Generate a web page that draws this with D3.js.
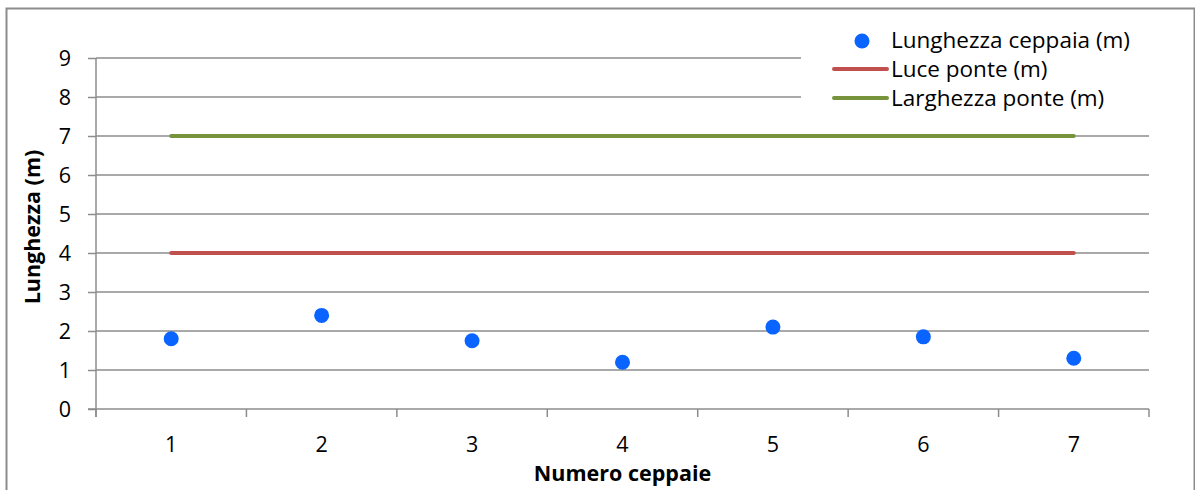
<!DOCTYPE html>
<html>
<head>
<meta charset="utf-8">
<script src="https://cdn.jsdelivr.net/npm/d3@7"></script>
<style>
  html, body { margin: 0; padding: 0; background: #fff; }
  svg { display: block; }
  text { font-family: "Open Sans", Lato, "Liberation Sans", sans-serif; fill: #000; }
</style>
</head>
<body>
<svg id="chart" width="1195" height="490"></svg>
<script>
// Data
const categories = ["1", "2", "3", "4", "5", "6", "7"];
const lunghezzaCeppaia = [1.8, 2.4, 1.75, 1.2, 2.1, 1.85, 1.3];
const lucePonte = [4, 4, 4, 4, 4, 4, 4];
const larghezzaPonte = [7, 7, 7, 7, 7, 7, 7];
const yTicks = [0, 1, 2, 3, 4, 5, 6, 7, 8, 9];
const seriesNames = ["Lunghezza ceppaia (m)", "Luce ponte (m)", "Larghezza ponte (m)"];

const svg = d3.select("#chart");
const plot = { left: 96, right: 1149, top: 58, bottom: 409 };
const gridColor = "#8c8c8c";
const fontSize = "21.5px";

// Outer frame
svg.append("rect")
  .attr("x", 6.5).attr("y", 8.5)
  .attr("width", 1188).attr("height", 500)
  .attr("fill", "#fff")
  .attr("stroke", "#8c8c8c").attr("stroke-width", 2);

const x = d3.scaleBand().domain(categories).range([plot.left, plot.right]).paddingInner(0).paddingOuter(0);
const y = d3.scaleLinear().domain([0, 9]).range([plot.bottom, plot.top]);
const cx = d => x(d) + x.bandwidth() / 2;

// Horizontal gridlines
svg.append("g")
  .selectAll("line")
  .data(yTicks.filter(t => t > 0))
  .join("line")
  .attr("x1", plot.left).attr("x2", plot.right)
  .attr("y1", d => y(d)).attr("y2", d => y(d))
  .attr("stroke", gridColor).attr("stroke-width", 1.5);

// Y axis
const yAxis = d3.axisLeft(y).tickValues(yTicks).tickSize(8).tickPadding(17).tickFormat(d3.format("d"));
const gy = svg.append("g").attr("transform", `translate(${plot.left},0)`).call(yAxis);
gy.select(".domain").attr("stroke", gridColor).attr("stroke-width", 1.5).attr("d", `M-0,${plot.bottom + 8}V${plot.top}`);
gy.selectAll(".tick line").attr("stroke", gridColor).attr("stroke-width", 1.5);
gy.selectAll(".tick text").style("font-size", fontSize).style("font-family", "'Open Sans', sans-serif").attr("dy", "0.35em");

// X axis with ticks on category boundaries
const gx = svg.append("g").attr("transform", `translate(0,${plot.bottom})`);
gx.append("line")
  .attr("x1", plot.left - 8).attr("x2", plot.right)
  .attr("stroke", gridColor).attr("stroke-width", 1.5);
const boundaries = categories.map(c => x(c)).concat([plot.right]);
gx.selectAll("line.tk")
  .data(boundaries)
  .join("line").attr("class", "tk")
  .attr("x1", d => d).attr("x2", d => d)
  .attr("y1", 0).attr("y2", 8)
  .attr("stroke", gridColor).attr("stroke-width", 1.5);
gx.selectAll("text")
  .data(categories)
  .join("text")
  .attr("x", d => cx(d)).attr("y", 43)
  .attr("text-anchor", "middle")
  .style("font-size", fontSize)
  .text(d => d);

// Axis titles
svg.append("text")
  .attr("x", (plot.left + plot.right) / 2).attr("y", 481)
  .attr("text-anchor", "middle")
  .style("font-size", fontSize).style("font-weight", "bold")
  .text("Numero ceppaie");
svg.append("text")
  .attr("transform", `translate(40,227) rotate(-90)`)
  .attr("text-anchor", "middle")
  .style("font-size", fontSize).style("font-weight", "bold")
  .text("Lunghezza (m)");

// Legend background sits over the top gridlines
svg.append("rect")
  .attr("x", 801).attr("y", 22).attr("width", 350).attr("height", 95)
  .attr("fill", "#fff");

// Lines
const line = d3.line().x((d, i) => cx(categories[i])).y(d => y(d));
svg.append("path").datum(larghezzaPonte)
  .attr("d", line).attr("fill", "none")
  .attr("stroke", "#77933C").attr("stroke-width", 4).attr("stroke-linecap", "round");
svg.append("path").datum(lucePonte)
  .attr("d", line).attr("fill", "none")
  .attr("stroke", "#C0504D").attr("stroke-width", 4).attr("stroke-linecap", "round");

// Points
svg.append("g")
  .selectAll("circle")
  .data(lunghezzaCeppaia)
  .join("circle")
  .attr("cx", (d, i) => cx(categories[i]))
  .attr("cy", d => y(d))
  .attr("r", 7.5)
  .attr("fill", "#0A64FF");

// Legend
const lg = svg.append("g");
lg.append("circle").attr("cx", 862).attr("cy", 41).attr("r", 7.5).attr("fill", "#0A64FF");
lg.append("line").attr("x1", 834).attr("x2", 887).attr("y1", 69).attr("y2", 69)
  .attr("stroke", "#C0504D").attr("stroke-width", 4).attr("stroke-linecap", "round");
lg.append("line").attr("x1", 834).attr("x2", 887).attr("y1", 98).attr("y2", 98)
  .attr("stroke", "#77933C").attr("stroke-width", 4).attr("stroke-linecap", "round");
lg.selectAll("text")
  .data(seriesNames)
  .join("text")
  .attr("x", 891).attr("y", (d, i) => 48 + i * 29)
  .style("font-size", "22.5px")
  .text(d => d);
</script>
</body>
</html>
